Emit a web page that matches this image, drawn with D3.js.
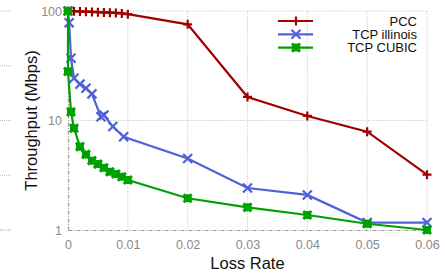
<!DOCTYPE html>
<html>
<head>
<meta charset="utf-8">
<script src="https://cdn.jsdelivr.net/npm/d3@7"></script>
<style>
  body { margin: 0; background: #fff; }
  svg text { font-family: "Liberation Sans", Arial, sans-serif; }
</style>
</head>
<body>
<div class="chart"></div>
<script>
//series names
const seriesNames = ['PCC', 'TCP illinois', 'TCP CUBIC'];

//loss rate / throughput pairs
const pccLoss = [0, 0.001, 0.002, 0.003, 0.004, 0.005, 0.006, 0.007, 0.008, 0.009, 0.01, 0.02, 0.03, 0.04, 0.05, 0.06];
const pccThroughput = [100, 99.5, 99, 98.5, 98, 97.5, 97, 96.5, 96, 95, 93.5, 75.6, 16.4, 11.0, 7.9, 3.2];

const illinoisLoss = [0, 0.0002, 0.0005, 0.001, 0.002, 0.003, 0.004, 0.0055, 0.006, 0.0075, 0.0093, 0.02, 0.03, 0.04, 0.05, 0.06];
const illinoisThroughput = [100, 78, 37, 24.3, 21.5, 19.7, 17.5, 10.8, 11.2, 8.8, 7.1, 4.5, 2.42, 2.09, 1.17, 1.17];

const cubicLoss = [0, 0, 0.0005, 0.001, 0.002, 0.003, 0.004, 0.005, 0.006, 0.007, 0.008, 0.009, 0.01, 0.02, 0.03, 0.04, 0.05, 0.06];
const cubicThroughput = [100, 28, 12, 8.5, 5.77, 4.9, 4.3, 4.0, 3.7, 3.4, 3.25, 3.06, 2.86, 1.95, 1.61, 1.37, 1.14, 1.0];

//ticks
const xTicks = [0, 0.01, 0.02, 0.03, 0.04, 0.05, 0.06];
const xTickLabels = ['0', '0.01', '0.02', '0.03', '0.04', '0.05', '0.06'];
const yTicks = [1, 10, 100];
const yTickLabels = ['1', '10', '100'];
//leftover grid of the neighbouring panel (cropped figure)
const strayGrid = [1, 3.162, 10, 31.62, 100];

const colors = ['#a00000', '#5060d8', '#00a000'];
const markers = ['plus', 'cross', 'star'];

const width = 445, height = 277;
const margin = {top: 11, right: 18, bottom: 47, left: 68};

const xScale = d3.scaleLinear()
    .domain([0, 0.06])
    .range([margin.left, width - margin.right]);

const yScale = d3.scaleLog()
    .domain([1, 100])
    .range([height - margin.bottom, margin.top]);

const svg = d3.select('.chart')
    .append('svg')
    .attr('width', width)
    .attr('height', height);

//stray dotted lines on the left edge
svg.append('g')
    .selectAll('line')
    .data(strayGrid)
    .enter()
    .append('line')
    .attr('x1', 0).attr('x2', 12)
    .attr('y1', d => yScale(d)).attr('y2', d => yScale(d))
    .style('stroke', '#bbb')
    .style('stroke-width', 1)
    .style('stroke-dasharray', d => d === 1 ? '4,1,1,1' : '1,1');

//grid lines
const grid = svg.append('g').attr('class', 'grid');
grid.selectAll('.vgrid')
    .data(xTicks.slice(1))
    .enter()
    .append('line')
    .attr('x1', d => xScale(d)).attr('x2', d => xScale(d))
    .attr('y1', yScale(100)).attr('y2', yScale(1))
    .style('stroke', '#c4c4c4')
    .style('stroke-dasharray', '1,1.5');
grid.selectAll('.hgrid')
    .data(yTicks.slice(1))
    .enter()
    .append('line')
    .attr('x1', xScale(0)).attr('x2', xScale(0.06))
    .attr('y1', d => yScale(d)).attr('y2', d => yScale(d))
    .style('stroke', '#c4c4c4')
    .style('stroke-dasharray', '1,1.5');

//axes
const xAxis = d3.axisBottom(xScale)
    .tickValues(xTicks)
    .tickFormat((d, i) => xTickLabels[i])
    .tickSize(0)
    .tickPadding(10);

const yAxis = d3.axisLeft(yScale)
    .tickValues(yTicks)
    .tickFormat((d, i) => yTickLabels[i])
    .tickSize(0)
    .tickPadding(6);

const xAxisDraw = svg.append('g')
    .attr('transform', `translate(0, ${yScale(1)})`)
    .call(xAxis);

const yAxisDraw = svg.append('g')
    .attr('transform', `translate(${xScale(0)}, 0)`)
    .call(yAxis);

[xAxisDraw, yAxisDraw].forEach(a => {
    a.select('.domain')
        .style('stroke', '#999')
        .style('stroke-width', 1.2)
        .style('stroke-dasharray', '4,1.5,1,1.5');
    a.selectAll('text')
        .style('fill', '#8a8a8a')
        .style('font-size', '12.5px');
});

//mark down the ticks x labels a little
xAxisDraw.selectAll('text').attr('dy', '0.75em');

//series
const seriesData = [
    pccLoss.map((d, i) => ({x: d, y: pccThroughput[i]})),
    illinoisLoss.map((d, i) => ({x: d, y: illinoisThroughput[i]})),
    cubicLoss.map((d, i) => ({x: d, y: cubicThroughput[i]}))
];

const line = d3.line()
    .x(d => xScale(d.x))
    .y(d => yScale(d.y));

function markerPath(type, r) {
    const p = `M${-r},0L${r},0M0,${-r}L0,${r}`;
    const c = `M${-r},${-r}L${r},${r}M${-r},${r}L${r},${-r}`;
    if (type === 'plus') return p;
    if (type === 'cross') return c;
    return p + c;
}

const plot = svg.append('g').attr('class', 'series');
seriesData.forEach((data, s) => {
    const g = plot.append('g');
    g.append('path')
        .datum(data)
        .attr('d', line)
        .style('fill', 'none')
        .style('stroke', colors[s])
        .style('stroke-width', 2.2);
    g.selectAll('.mk')
        .data(data)
        .enter()
        .append('path')
        .attr('transform', d => `translate(${xScale(d.x)}, ${yScale(d.y)})`)
        .attr('d', markerPath(markers[s], s === 2 ? 4 : 4.5))
        .style('fill', 'none')
        .style('stroke', colors[s])
        .style('stroke-width', s === 2 ? 3 : 2.2);
});

//legend
const legend = svg.append('g').attr('class', 'legend');
seriesNames.forEach((name, i) => {
    const y = 21 + i * 13.3;
    legend.append('line')
        .attr('x1', 278).attr('x2', 313)
        .attr('y1', y).attr('y2', y)
        .style('stroke', colors[i])
        .style('stroke-width', 2.2);
    legend.append('path')
        .attr('transform', `translate(296, ${y})`)
        .attr('d', markerPath(markers[i], i === 2 ? 4 : 4.5))
        .style('fill', 'none')
        .style('stroke', colors[i])
        .style('stroke-width', i === 2 ? 3 : 2.2);
    legend.append('text')
        .attr('x', 417)
        .attr('y', y)
        .attr('dy', '0.35em')
        .attr('text-anchor', 'end')
        .style('font-size', '13px')
        .style('fill', '#111')
        .text(name);
});

//axis titles
svg.append('text')
    .attr('x', (xScale(0) + xScale(0.06)) / 2)
    .attr('y', 269)
    .attr('text-anchor', 'middle')
    .style('font-size', '16.5px')
    .style('fill', '#111')
    .text('Loss Rate');

svg.append('text')
    .attr('transform', `translate(36.5, ${(yScale(1) + yScale(100)) / 2}) rotate(-90)`)
    .attr('text-anchor', 'middle')
    .style('font-size', '16.5px')
    .style('fill', '#111')
    .text('Throughput (Mbps)');
</script>
</body>
</html>
